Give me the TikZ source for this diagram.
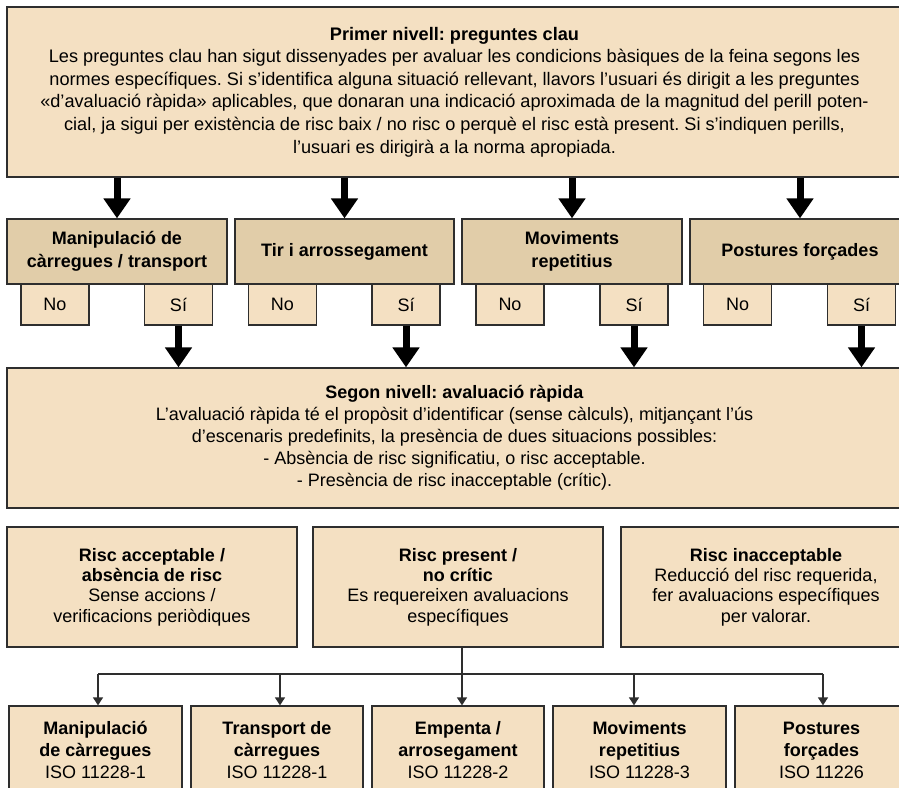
\documentclass[tikz,border=0pt]{standalone}
\usepackage{fontspec}
\setmainfont{Liberation Sans}
\usetikzlibrary{arrows.meta,calc}
\definecolor{lightfill}{HTML}{F4E0C2}
\definecolor{darkfill}{HTML}{E1CDA9}
\definecolor{edgecol}{HTML}{2E2E2E}
\frenchspacing
\begin{document}
\frenchspacing
\begin{tikzpicture}[x=1pt,y=-1pt,
  box/.style={draw=edgecol, line width=1.3pt, fill=lightfill, align=center, inner sep=0pt,
              font=\frenchspacing\fontsize{18}{22.6}\selectfont},
  catbox/.style={box, fill=darkfill, minimum width=220pt, minimum height=65pt, font=\bfseries\fontsize{18}{23}\selectfont},
  ansbox/.style={box, minimum width=68pt, minimum height=41pt},
  riscbox/.style={box, minimum width=290pt, minimum height=120pt, font=\fontsize{18}{20.4}\selectfont},
  normbox/.style={box, minimum width=173pt, minimum height=88pt, font=\fontsize{18}{22}\selectfont},
  bigarrow/.style={draw=black, line width=7pt, -{Triangle[width=26pt,length=20pt]}},
  thinline/.style={draw=edgecol, line width=1.4pt},
  thinarrow/.style={thinline, -{Triangle[width=10pt,length=8pt]}}]
\clip (0,0) rectangle (899,787);
\fill[white] (0,0) rectangle (899,787);

% first level
\node[box, minimum width=895pt, minimum height=170pt, font=\frenchspacing\fontsize{18.15}{22.6}\selectfont] (top) at (454.5,92)
 {\textbf{Primer nivell: preguntes clau}\\
  Les preguntes clau han sigut dissenyades per avaluar les condicions bàsiques de la feina segons les\\
  normes específiques. Si s’identifica alguna situació rellevant, llavors l’usuari és dirigit a les preguntes\\
  «d’avaluació ràpida» aplicables, que donaran una indicació aproximada de la magnitud del perill poten-\\
  cial, ja sigui per existència de risc baix / no risc o perquè el risc està present. Si s’indiquen perills,\\
  l’usuari es dirigirà a la norma apropiada.};

% categories
\node[catbox] (c1) at (117,251.5) {Manipulació de\\càrregues / transport};
\node[catbox, minimum width=219pt] (c2) at (344.5,251.5) {Tir i arrossegament};
\node[catbox] (c3) at (572,251.5) {Moviments\\repetitius};
\node[catbox] (c4) at (800,251.5) {Postures forçades};

\node[ansbox] (n1) at (55,304.5) {No};
\node[ansbox] (s1) at (178.5,304.5) {Sí};
\node[ansbox] (n2) at (282.5,304.5) {No};
\node[ansbox] (s2) at (406,304.5) {Sí};
\node[ansbox] (n3) at (510,304.5) {No};
\node[ansbox] (s3) at (634,304.5) {Sí};
\node[ansbox] (n4) at (737.5,304.5) {No};
\node[ansbox] (s4) at (861.5,304.5) {Sí};

\foreach \c in {c1,c2,c3,c4}
  \draw[bigarrow] (top.south -| \c.north) -- (\c.north);

% second level
\node[box, minimum width=895pt, minimum height=140pt, font=\frenchspacing\fontsize{18}{22}\selectfont] (seg) at (454.5,438)
 {\textbf{Segon nivell: avaluació ràpida}\\
  L’avaluació ràpida té el propòsit d’identificar (sense càlculs), mitjançant l’ús\\
  d’escenaris predefinits, la presència de dues situacions possibles:\\
  - Absència de risc significatiu, o risc acceptable.\\
  - Presència de risc inacceptable (crític).};

\foreach \s in {s1,s2,s3,s4}
  \draw[bigarrow] (\s.south) -- (\s.south |- seg.north);

% risk results
\node[riscbox] (r1) at (152,587) {\textbf{Risc acceptable /}\\\textbf{absència de risc}\\Sense accions /\\verificacions periòdiques};
\node[riscbox] (r2) at (458,587) {\textbf{Risc present /}\\\textbf{no crític}\\Es requereixen avaluacions\\específiques};
\node[riscbox] (r3) at (766,587) {\textbf{Risc inacceptable}\\Reducció del risc requerida,\\fer avaluacions específiques\\per valorar.};

% norms
\node[normbox] (b1) at (95.5,750) {\textbf{Manipulació}\\\textbf{de càrregues}\\ISO 11228-1};
\node[normbox, minimum width=172pt] (b2) at (277,750) {\textbf{Transport de}\\\textbf{càrregues}\\ISO 11228-1};
\node[normbox, minimum width=172pt] (b3) at (458,750) {\textbf{Empenta /}\\\textbf{arrosegament}\\ISO 11228-2};
\node[normbox] (b4) at (639.5,750) {\textbf{Moviments}\\\textbf{repetitius}\\ISO 11228-3};
\node[normbox] (b5) at (821.5,750) {\textbf{Postures}\\\textbf{forçades}\\ISO 11226};

\coordinate (hub) at (462,674);
\coordinate (h1) at (98,674);
\coordinate (h2) at (280,674);
\coordinate (h4) at (634,674);
\coordinate (h5) at (823,674);
\draw[thinline] (r2.south -| hub) -- (hub);
\draw[thinline] (h1) -- (h5);
\draw[thinarrow] (h1) -- (h1 |- b1.north);
\draw[thinarrow] (h2) -- (h2 |- b2.north);
\draw[thinarrow] (hub) -- (hub |- b3.north);
\draw[thinarrow] (h4) -- (h4 |- b4.north);
\draw[thinarrow] (h5) -- (h5 |- b5.north);
\end{tikzpicture}
\end{document}
